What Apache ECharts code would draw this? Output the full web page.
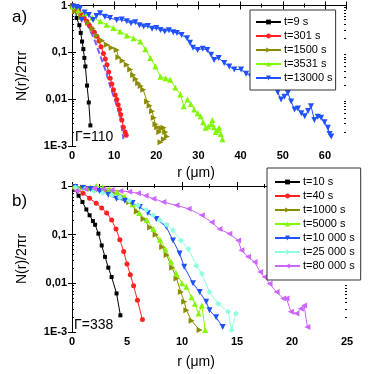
<!DOCTYPE html>
<html>
<head>
<meta charset="utf-8">
<script src="https://cdn.jsdelivr.net/npm/echarts@6/dist/echarts.min.js"></script>
<style>
  html, body { margin: 0; padding: 0; background: #fff; }
  #chart { width: 374px; height: 374px; }
</style>
</head>
<body>
<div id="chart"></div>
<script>
// panel a) Gamma = 110
const rA9 = [0, 0.7, 1.1, 1.74, 2.07, 2.38, 2.69, 2.93, 3.17, 3.57, 3.98, 4.36]
const nA9 = [1, 0.93, 0.54, 0.38, 0.26, 0.17, 0.117, 0.076, 0.05, 0.0195, 0.0085, 0.00275]

const rA301 = [0.3, 1.0, 1.6, 2.3, 2.9, 3.5, 4.1, 4.7, 5.3, 5.9, 6.4, 6.9, 7.45, 7.9, 8.3, 8.7, 9.05, 9.45, 9.83, 10.25, 10.64, 10.95, 11.26, 11.55, 11.83, 12.2, 12.6, 12.86]
const nA301 = [1, 0.87, 0.76, 0.63, 0.54, 0.46, 0.38, 0.32, 0.27, 0.22, 0.174, 0.132, 0.095, 0.072, 0.054, 0.038, 0.028, 0.021, 0.0158, 0.0123, 0.0098, 0.0076, 0.006, 0.0047, 0.0036, 0.0025, 0.002, 0.0017]

const rAfit = [1, 2.5, 3.9, 5.5, 6.7, 8, 9.05, 10.2, 11.4, 12.2]
const nAfit = [0.85, 0.6, 0.36, 0.17, 0.085, 0.04, 0.019, 0.0095, 0.0045, 0.0014]

const rA1500 = [0.2, 0.7, 2.2, 3.8, 4.9, 5.9, 7.1, 8.26, 9.4, 10.6, 11.0, 12.0, 13.0, 13.8, 14.5, 15.1, 15.7, 16.3, 16.9, 17.8, 18.4, 19.0, 19.4, 19.8, 20.2, 20.7, 21.2, 21.7, 22.1, 22.5, 21.8, 21.0]
const nA1500 = [0.95, 0.74, 0.56, 0.43, 0.32, 0.23, 0.18, 0.145, 0.126, 0.112, 0.079, 0.066, 0.054, 0.043, 0.033, 0.027, 0.022, 0.019, 0.0158, 0.0089, 0.0072, 0.0055, 0.004, 0.0029, 0.0025, 0.002, 0.0024, 0.00245, 0.002, 0.0016, 0.0014, 0.0012]

const rA3531 = [0.2, 1.5, 3, 4.8, 6.67, 8.2, 9.8, 11.4, 13, 14.6, 16.2, 17.4, 18.6, 19.8, 21, 22.2, 23.3, 24.5, 25.7, 26.5, 27.4, 28.2, 29, 29.8, 30.5, 31.1, 31.7, 32.3, 33, 33.3, 33.7, 34.1, 34.5, 34.9, 35.3, 35.7]
const nA3531 = [0.955, 0.79, 0.68, 0.55, 0.46, 0.39, 0.33, 0.28, 0.23, 0.2, 0.17, 0.117, 0.076, 0.05, 0.03, 0.028, 0.026, 0.0178, 0.0126, 0.0071, 0.0098, 0.0079, 0.006, 0.005, 0.0043, 0.0032, 0.00245, 0.0026, 0.0029, 0.0036, 0.0025, 0.002, 0.0022, 0.00245, 0.0018, 0.0014]

const rA13000 = [0.3, 1.1, 1.9, 2.3, 3, 4, 5, 5.8, 6.67, 7.8, 9, 10.6, 11.8, 13, 14, 15, 16, 17, 18, 19, 20, 21, 22, 23, 24, 24.9, 26, 27.3, 28, 28.7, 29.8, 31, 32.1, 33, 33.7, 34.8, 36.1, 37.3, 38.5, 40.1, 41.3, 42.5, 44, 45.6, 46.8, 48, 48.8, 49.6, 50.4, 51.2, 52, 52.8, 53.6, 54.4, 55.2, 56, 56.7, 57.5, 58.3, 59.1, 59.9, 60.7, 61.1, 61.5]
const nA13000 = [0.955, 0.93, 0.87, 0.49, 0.71, 0.63, 0.49, 0.6, 0.68, 0.575, 0.54, 0.49, 0.5, 0.46, 0.42, 0.44, 0.38, 0.355, 0.363, 0.32, 0.33, 0.3, 0.28, 0.295, 0.27, 0.26, 0.234, 0.2, 0.16, 0.126, 0.112, 0.12, 0.112, 0.089, 0.069, 0.076, 0.059, 0.05, 0.043, 0.043, 0.035, 0.031, 0.025, 0.0186, 0.022, 0.0186, 0.014, 0.0098, 0.0112, 0.0135, 0.0089, 0.006, 0.0063, 0.005, 0.0043, 0.0056, 0.0071, 0.0036, 0.0042, 0.004, 0.0032, 0.00245, 0.0018, 0.0016]

// panel b) Gamma = 338
const rB10 = [0.25, 0.6, 0.95, 1.3, 1.6, 1.9, 2.1, 2.4, 2.7, 3.0, 3.3, 3.6, 4.05, 4.4]
const nB10 = [0.83, 0.63, 0.47, 0.33, 0.25, 0.19, 0.16, 0.105, 0.06, 0.035, 0.021, 0.0135, 0.0062, 0.0022]

const rB40 = [0.3, 1.0, 1.6, 2.2, 2.7, 3.15, 3.6, 4.0, 4.35, 4.7, 5.0, 5.3, 5.6, 5.95, 6.4]
const nB40 = [0.89, 0.71, 0.56, 0.44, 0.355, 0.28, 0.2, 0.13, 0.079, 0.045, 0.025, 0.015, 0.0089, 0.0045, 0.0018]

const rB1000 = [0.3, 1, 1.7, 2.4, 3.1, 3.8, 4.5, 5.2, 5.9, 6.5, 7.1, 7.6, 8.2, 8.6, 9.1, 9.5, 9.9, 10.2, 10.4, 10.87, 11.6]
const nB1000 = [0.955, 0.93, 0.89, 0.85, 0.79, 0.71, 0.6, 0.47, 0.3, 0.21, 0.14, 0.1, 0.056, 0.038, 0.021, 0.0126, 0.0066, 0.0042, 0.0028, 0.0017, 0.0011]

const rB5000 = [0.3, 1, 1.7, 2.2, 2.8, 3.4, 4.1, 4.8, 5.5, 6.1, 6.8, 7.4, 8.0, 8.5, 9.0, 9.5, 10.0, 10.4, 10.87, 11.17, 11.5, 11.8, 12.1]
const nB5000 = [1, 0.955, 0.93, 1, 0.93, 0.87, 0.76, 0.6, 0.42, 0.28, 0.2, 0.13, 0.079, 0.05, 0.028, 0.0158, 0.01, 0.0085, 0.0052, 0.0038, 0.0024, 0.0035, 0.0011]

const rB10000 = [0.3, 1, 1.7, 2.5, 3.3, 4.05, 4.8, 5.5, 6.16, 6.9, 7.67, 8.57, 9.18, 9.78, 10.2, 11.0, 11.6, 12.2, 12.5, 13.1, 13.7]
const nB10000 = [0.955, 0.91, 0.87, 0.79, 0.66, 0.55, 0.5, 0.45, 0.37, 0.28, 0.21, 0.145, 0.076, 0.041, 0.022, 0.01, 0.0066, 0.0042, 0.0028, 0.002, 0.00126]

const rB25000 = [0.3, 1.2, 2, 2.8, 3.6, 4.35, 5.2, 6, 6.76, 7.4, 7.97, 8.6, 9.18, 9.9, 10.6, 11.3, 11.8, 12.5, 13.3, 14.2, 14.5, 14.9]
const nB25000 = [0.93, 0.87, 0.79, 0.72, 0.66, 0.59, 0.5, 0.4, 0.32, 0.25, 0.2, 0.16, 0.123, 0.076, 0.051, 0.023, 0.0158, 0.0066, 0.0038, 0.0026, 0.0011, 0.0024]

const rB80000 = [0.4, 1.2, 2.0, 2.8, 3.6, 4.4, 5.2, 6.0, 6.7, 7.4, 8.3, 9.5, 10.6, 11.8, 12.7, 13.4, 14.3, 15.1, 15.4, 16.0, 16.6, 17.1, 17.5, 17.96, 18.6, 19.2, 19.5, 19.9, 20.4, 20.8, 21.1, 21.4]
const nB80000 = [0.79, 0.87, 0.89, 0.87, 0.83, 0.79, 0.76, 0.71, 0.63, 0.55, 0.47, 0.4, 0.34, 0.25, 0.18, 0.13, 0.105, 0.076, 0.048, 0.035, 0.0275, 0.017, 0.0135, 0.0098, 0.0066, 0.0049, 0.0049, 0.0026, 0.0024, 0.003, 0.0035, 0.00126]

const legendA = ['t=9 s', 't=301 s', 't=1500 s', 't=3531 s', 't=13000 s']
const legendB = ['t=10 s', 't=40 s', 't=1000 s', 't=5000 s', 't=10 000 s', 't=25 000 s', 't=80 000 s']
const yTickLabels = { '0': '1', '-1': '0,1', '-2': '0,01', '-3': '1E-3' }
const minorMantissa = [2, 3, 4, 5, 6, 7, 8, 9]
const decades = [-3, -2, -1]

const FONT = 'Liberation Sans, Arial, sans-serif'

// minor log tick positions, in decades (for a linear helper axis from -3 to 0)
const minorTickPos = []
decades.forEach(d => minorMantissa.forEach(m => minorTickPos.push(d + Math.log10(m))))

function pairs(r, n) {
  return r.map((v, i) => [v, n[i]])
}

function xAxes(grid, max, interval, showMax) {
  const base = {
    gridIndex: grid, type: 'value', min: 0, max: max, interval: interval,
    splitLine: { show: false },
    axisLine: { lineStyle: { color: '#000', width: 1 } },
    axisTick: { inside: true, length: 4, lineStyle: { color: '#000' } },
    minorTick: { show: true, splitNumber: 2, length: 2, lineStyle: { color: '#000' } }
  }
  return [
    Object.assign({}, base, {
      position: 'bottom',
      axisLabel: {
        color: '#000', fontFamily: FONT, fontWeight: 'bold', fontSize: 11, margin: 4,
        showMaxLabel: showMax
      }
    }),
    Object.assign({}, base, { position: 'top', axisLabel: { show: false } })
  ]
}

function yAxes(grid) {
  const base = {
    gridIndex: grid, type: 'log', logBase: 10, min: 0.001, max: 1,
    splitLine: { show: false },
    axisLine: { lineStyle: { color: '#000', width: 1 } },
    axisTick: { inside: true, length: 4, lineStyle: { color: '#000' } }
  }
  const minor = {
    gridIndex: grid, type: 'value', min: -3, max: 0,
    splitLine: { show: false },
    axisLine: { show: false },
    axisLabel: { show: false },
    axisTick: { inside: true, length: 2, customValues: minorTickPos, lineStyle: { color: '#000' } }
  }
  return [
    Object.assign({}, base, {
      position: 'left',
      axisLabel: {
        color: '#000', fontFamily: FONT, fontWeight: 'bold', fontSize: 11, margin: 5,
        formatter: v => yTickLabels[String(Math.round(Math.log10(v)))] || ''
      }
    }),
    Object.assign({}, base, { position: 'right', axisLabel: { show: false } }),
    Object.assign({}, minor, { position: 'left' }),
    Object.assign({}, minor, { position: 'right' })
  ]
}

function series(name, data, color, symbol, rotate, size, xi, yi) {
  return {
    name: name, type: 'line', data: data,
    xAxisIndex: xi, yAxisIndex: yi,
    symbol: symbol, symbolRotate: rotate, symbolSize: size,
    lineStyle: { color: color, width: 1 },
    itemStyle: { color: color },
    animation: false
  }
}

function legend(names, left, top, padLeft, padV, padRight) {
  return {
    data: names, orient: 'vertical', left: left, top: top,
    padding: [padV, padRight, padV, padLeft], itemGap: 2, itemWidth: 25, itemHeight: 6,
    backgroundColor: '#fff', borderColor: '#333', borderWidth: 1,
    textStyle: { color: '#000', fontFamily: FONT, fontSize: 11, lineHeight: 12, padding: [0, 0, 0, -2] }
  }
}

const chart = echarts.init(document.getElementById('chart'), null, { renderer: 'canvas' })

const option = {
  backgroundColor: '#fff',
  animation: false,
  grid: [
    { left: 72, right: 28, top: 5, height: 141 },
    { left: 72, right: 27, top: 186, height: 146 }
  ],
  xAxis: [].concat(xAxes(0, 65, 10, false), xAxes(1, 25, 5, true)),
  yAxis: [].concat(yAxes(0), yAxes(1)),
  legend: [
    legend(legendA, 250, 10, 5, 6, 3),
    legend(legendB, 267, 168, 7, 8, 6)
  ],
  series: [
    series(legendA[0], pairs(rA9, nA9), '#000000', 'rect', 0, 4, 0, 0),
    series(legendA[1], pairs(rA301, nA301), '#ff2020', 'circle', 0, 5, 0, 0),
    Object.assign(series('fit', pairs(rAfit, nAfit), '#7a5cff', 'none', 0, 0, 0, 0), {
      lineStyle: { color: '#7a5cff', width: 2, type: [6, 3] }
    }),
    series(legendA[2], pairs(rA1500, nA1500), '#8c8c00', 'triangle', -90, 6, 0, 0),
    series(legendA[3], pairs(rA3531, nA3531), '#80f800', 'triangle', 0, 6, 0, 0),
    series(legendA[4], pairs(rA13000, nA13000), '#2050ff', 'triangle', 180, 6, 0, 0),

    series(legendB[0], pairs(rB10, nB10), '#000000', 'rect', 0, 4, 2, 4),
    series(legendB[1], pairs(rB40, nB40), '#ff2020', 'circle', 0, 5, 2, 4),
    series(legendB[2], pairs(rB1000, nB1000), '#8c8c00', 'triangle', -90, 6, 2, 4),
    series(legendB[3], pairs(rB5000, nB5000), '#80f800', 'triangle', 0, 6, 2, 4),
    series(legendB[4], pairs(rB10000, nB10000), '#2050ff', 'triangle', 180, 6, 2, 4),
    series(legendB[5], pairs(rB25000, nB25000), '#90ffe0', 'diamond', 0, 6, 2, 4),
    series(legendB[6], pairs(rB80000, nB80000), '#cc66ff', 'triangle', 90, 6, 2, 4)
  ],
  graphic: [
    { type: 'text', x: 12, y: 17, style: { text: 'a)', font: '17px ' + FONT, fill: '#000', textVerticalAlign: 'middle' } },
    { type: 'text', x: 12, y: 201, style: { text: 'b)', font: '17px ' + FONT, fill: '#000', textVerticalAlign: 'middle' } },
    { type: 'text', x: 22, y: 76, rotation: Math.PI / 2, style: { text: 'N(r)/2πr', font: '14px ' + FONT, fill: '#000', textAlign: 'center', textVerticalAlign: 'middle' } },
    { type: 'text', x: 22, y: 259, rotation: Math.PI / 2, style: { text: 'N(r)/2πr', font: '14px ' + FONT, fill: '#000', textAlign: 'center', textVerticalAlign: 'middle' } },
    { type: 'text', x: 196, y: 173, style: { text: 'r (μm)', font: '14px ' + FONT, fill: '#000', textAlign: 'center', textVerticalAlign: 'middle' } },
    { type: 'text', x: 196, y: 362, style: { text: 'r (μm)', font: '14px ' + FONT, fill: '#000', textAlign: 'center', textVerticalAlign: 'middle' } },
    { type: 'text', x: 75, y: 137, style: { text: 'Γ=110', font: '14px ' + FONT, fill: '#000', textVerticalAlign: 'middle' } },
    { type: 'text', x: 74, y: 325, style: { text: 'Γ=338', font: '14px ' + FONT, fill: '#000', textVerticalAlign: 'middle' } }
  ]
}

chart.setOption(option)
</script>
</body>
</html>
